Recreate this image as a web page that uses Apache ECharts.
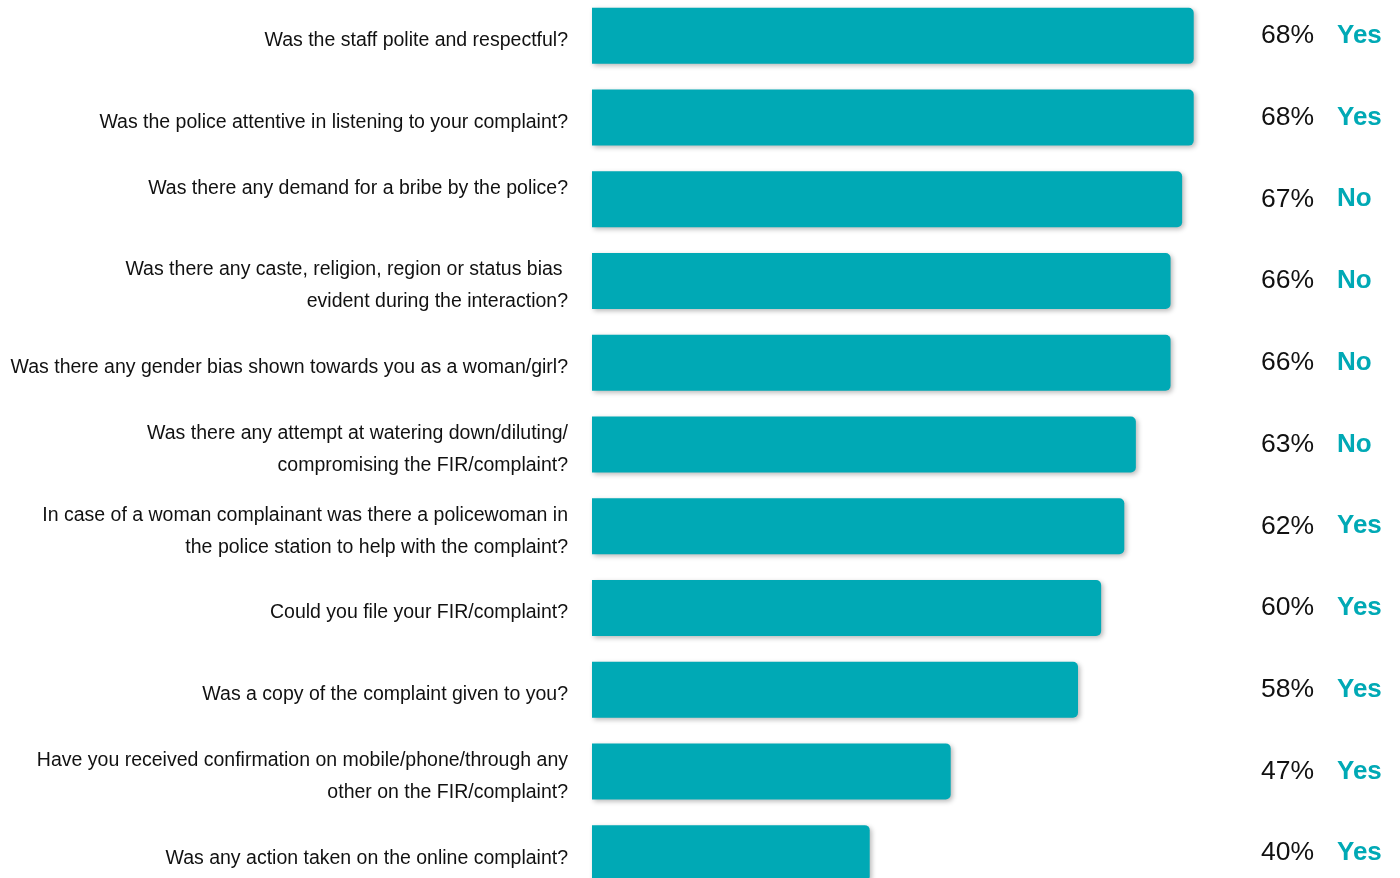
<!DOCTYPE html>
<html>
<head>
<meta charset="utf-8">
<script src="https://cdn.jsdelivr.net/npm/echarts@6/dist/echarts.min.js"></script>
<style>
  html, body { margin: 0; padding: 0; background: #ffffff; }
  #chart { width: 1400px; height: 878px; }
</style>
</head>
<body>
<div id="chart"></div>
<script>
// Survey questions (top to bottom)
const questions = [
  'Was the staff polite and respectful?',
  'Was the police attentive in listening to your complaint?',
  'Was there any demand for a bribe by the police?\n ',
  'Was there any caste, religion, region or status bias \nevident during the interaction?',
  'Was there any gender bias shown towards you as a woman/girl?',
  'Was there any attempt at watering down/diluting/\ncompromising the FIR/complaint?',
  'In case of a woman complainant was there a policewoman in\nthe police station to help with the complaint?',
  'Could you file your FIR/complaint?',
  'Was a copy of the complaint given to you?',
  'Have you received confirmation on mobile/phone/through any\nother on the FIR/complaint?',
  'Was any action taken on the online complaint?'
];
// Share of respondents giving the majority answer (%)
const shares = [68, 68, 67, 66, 66, 63, 62, 60, 58, 47, 40];
// Majority answer for each question
const answers = ['Yes', 'Yes', 'No', 'No', 'No', 'No', 'Yes', 'Yes', 'Yes', 'Yes', 'Yes'];

const TEAL = '#00A9B5';
const FONT = 'Liberation Sans, Arial, sans-serif';
const chart = echarts.init(document.getElementById('chart'));

const hiddenCat = {
  type: 'category',
  data: questions,
  inverse: true,
  axisLine: { show: false },
  axisTick: { show: false },
  splitLine: { show: false }
};

chart.setOption({
  animation: false,
  backgroundColor: '#ffffff',
  grid: [
    // bars and right-hand answer labels
    { left: 592, right: 160, top: -5, bottom: -16, containLabel: false, outerBoundsMode: 'none' },
    // question text, sitting a little lower than the bar rows
    { left: 592, right: 160, top: 0, bottom: -21, containLabel: false, outerBoundsMode: 'none' }
  ],
  xAxis: [
    { type: 'value', min: 16, max: 72, show: false, gridIndex: 0 },
    { type: 'value', min: 16, max: 72, show: false, gridIndex: 1 }
  ],
  yAxis: [
    Object.assign({}, hiddenCat, {
      gridIndex: 0,
      position: 'right',
      axisLabel: {
        margin: 21,
        align: 'left',
        interval: 0,
        formatter: function (v, i) {
          return '{p|' + shares[i] + '%}{a|' + answers[i] + '}';
        },
        rich: {
          p: { width: 76, fontFamily: FONT, fontSize: 26.5, color: '#111111' },
          a: { fontFamily: FONT, fontSize: 26, fontWeight: 'bold', color: TEAL }
        }
      }
    }),
    Object.assign({}, hiddenCat, {
      gridIndex: 1,
      position: 'left',
      axisLabel: {
        margin: 24,
        align: 'right',
        fontFamily: FONT,
        fontSize: 19.5,
        lineHeight: 32,
        color: '#111111',
        interval: 0,
        hideOverlap: false
      }
    })
  ],
  series: [
    {
      type: 'bar',
      data: shares,
      barWidth: 56,
      xAxisIndex: 0,
      yAxisIndex: 0,
      itemStyle: {
        color: TEAL,
        borderRadius: [0, 5, 5, 0],
        shadowBlur: 5,
        shadowColor: 'rgba(0,0,0,0.28)',
        shadowOffsetX: 2,
        shadowOffsetY: 2
      }
    }
  ]
});
</script>
</body>
</html>
